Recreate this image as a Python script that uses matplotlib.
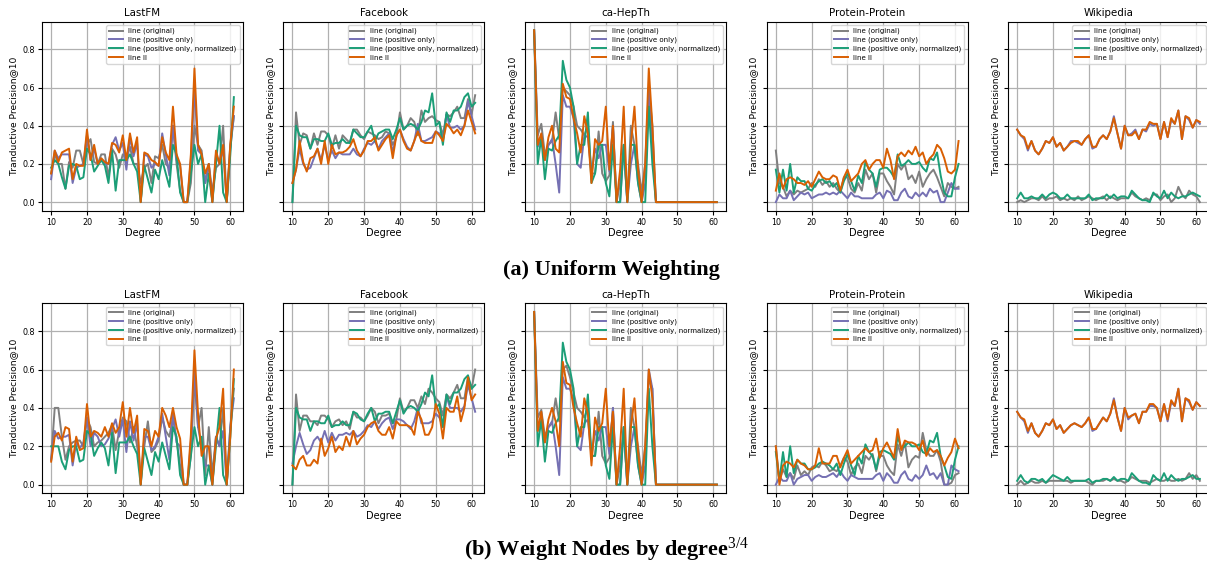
import matplotlib
matplotlib.use('Agg')
import matplotlib.pyplot as plt

plt.rcParams['mathtext.fontset'] = 'custom'
plt.rcParams['mathtext.rm'] = 'Liberation Serif'
plt.rcParams['mathtext.it'] = 'Liberation Serif:italic'
plt.rcParams['mathtext.bf'] = 'Liberation Serif:bold'

degree = list(range(10, 62))

labels = ['line (original)', 'line (positive only)',
          'line (positive only, normalized)', 'line II']
colors = ['#7f7f7f', '#7570b3', '#1b9e77', '#d95f02']
titles = ['LastFM', 'Facebook', 'ca-HepTh', 'Protein-Protein', 'Wikipedia']

# ---- (a) uniform weighting ----
lastfm_u_orig = [0.15,0.25,0.20,0.20,0.07,0.21,0.18,0.27,0.27,0.20, 0.30,0.33,0.21,0.20,0.25,0.25,0.13,0.28,0.25,0.18,
                 0.25,0.23,0.29,0.20,0.20,0.10,0.18,0.20,0.10,0.24, 0.23,0.30,0.20,0.18,0.40,0.20,0.06,0.0,0.0,0.10,
                 0.40,0.30,0.27,0.10,0.20,0.05,0.18,0.20,0.40,0.0, 0.30,0.45]
lastfm_u_pos = [0.12,0.27,0.23,0.25,0.25,0.25,0.10,0.18,0.19,0.20, 0.35,0.22,0.28,0.20,0.22,0.20,0.20,0.30,0.34,0.27,
                0.31,0.17,0.34,0.24,0.31,0.0,0.25,0.24,0.18,0.20, 0.19,0.36,0.25,0.14,0.40,0.22,0.19,0.0,0.0,0.22,
                0.60,0.27,0.25,0.10,0.20,0.0,0.25,0.20,0.28,0.0, 0.28,0.45]
lastfm_u_norm = [0.18,0.22,0.20,0.13,0.07,0.19,0.20,0.19,0.12,0.13, 0.28,0.25,0.16,0.19,0.22,0.19,0.10,0.27,0.06,0.22,
                 0.22,0.22,0.25,0.20,0.16,0.0,0.19,0.12,0.05,0.17, 0.12,0.22,0.15,0.08,0.30,0.25,0.05,0.0,0.0,0.15,
                 0.30,0.20,0.25,0.0,0.15,0.0,0.20,0.40,0.05,0.0, 0.25,0.55]
lastfm_u_line2 = [0.15,0.27,0.21,0.26,0.27,0.28,0.12,0.20,0.19,0.19, 0.38,0.22,0.30,0.20,0.23,0.21,0.20,0.31,0.30,0.26,
                  0.35,0.22,0.36,0.26,0.34,0.0,0.26,0.25,0.22,0.21, 0.19,0.34,0.26,0.22,0.50,0.25,0.20,0.0,0.0,0.25,
                  0.70,0.30,0.25,0.15,0.20,0.0,0.27,0.20,0.30,0.0, 0.30,0.50]

facebook_u_orig = [0.0,0.47,0.30,0.36,0.35,0.28,0.36,0.30,0.37,0.37, 0.35,0.28,0.35,0.28,0.35,0.33,0.31,0.38,0.38,0.35,
                   0.33,0.37,0.36,0.35,0.33,0.34,0.37,0.36,0.30,0.34, 0.47,0.38,0.40,0.44,0.42,0.35,0.48,0.42,0.44,0.45,
                   0.43,0.42,0.35,0.46,0.45,0.47,0.50,0.44,0.44,0.54, 0.46,0.56]
facebook_u_pos = [0.10,0.17,0.28,0.20,0.17,0.18,0.23,0.28,0.22,0.30, 0.22,0.27,0.23,0.26,0.25,0.25,0.25,0.28,0.25,0.24,
                  0.28,0.31,0.30,0.32,0.28,0.32,0.34,0.36,0.26,0.35, 0.38,0.33,0.29,0.27,0.32,0.41,0.32,0.32,0.33,0.34,
                  0.37,0.36,0.33,0.46,0.39,0.39,0.40,0.38,0.40,0.53, 0.45,0.38]
facebook_u_norm = [0.0,0.40,0.35,0.34,0.34,0.28,0.33,0.33,0.32,0.32, 0.36,0.30,0.31,0.31,0.33,0.31,0.31,0.38,0.36,0.34,
                   0.34,0.37,0.40,0.32,0.36,0.37,0.38,0.38,0.33,0.38, 0.44,0.38,0.40,0.41,0.40,0.38,0.42,0.48,0.47,0.57,
                   0.40,0.42,0.30,0.47,0.42,0.48,0.48,0.50,0.55,0.57, 0.50,0.52]
facebook_u_line2 = [0.10,0.17,0.32,0.21,0.16,0.23,0.24,0.28,0.20,0.32, 0.20,0.30,0.25,0.26,0.26,0.27,0.29,0.33,0.27,0.24,
                    0.27,0.32,0.32,0.34,0.27,0.30,0.33,0.35,0.23,0.35, 0.38,0.32,0.28,0.27,0.32,0.37,0.32,0.31,0.31,0.31,
                    0.37,0.35,0.32,0.41,0.39,0.36,0.38,0.35,0.40,0.48, 0.42,0.36]

hepth_u_orig = [0.90,0.35,0.41,0.25,0.30,0.32,0.47,0.33,0.60,0.58, 0.56,0.50,0.40,0.38,0.35,0.40,0.15,0.15,0.37,0.15,
                0.11,0.14,0.42,0.0,0.10,0.30,0.0,0.40,0.30,0.20, 0.05,0.20,0.60,0.40,0.0,0.0,0.0,0.0,0.0,0.0,
                0.0,0.0,0.0,0.0,0.0,0.0,0.0,0.0,0.0,0.0, 0.0,0.0]
hepth_u_pos = [0.90,0.29,0.33,0.22,0.30,0.33,0.20,0.05,0.56,0.50, 0.50,0.44,0.20,0.18,0.35,0.34,0.15,0.28,0.23,0.30,
               0.30,0.16,0.40,0.0,0.0,0.30,0.0,0.20,0.30,0.10, 0.0,0.10,0.60,0.30,0.0,0.0,0.0,0.0,0.0,0.0,
               0.0,0.0,0.0,0.0,0.0,0.0,0.0,0.0,0.0,0.0, 0.0,0.0]
hepth_u_norm = [0.90,0.20,0.34,0.12,0.28,0.27,0.32,0.35,0.74,0.64, 0.60,0.50,0.20,0.30,0.30,0.47,0.10,0.15,0.30,0.30,
                0.10,0.03,0.30,0.0,0.0,0.30,0.0,0.30,0.30,0.10, 0.0,0.0,0.50,0.20,0.0,0.0,0.0,0.0,0.0,0.0,
                0.0,0.0,0.0,0.0,0.0,0.0,0.0,0.0,0.0,0.0, 0.0,0.0]
hepth_u_line2 = [0.90,0.30,0.36,0.22,0.34,0.40,0.28,0.26,0.62,0.55, 0.54,0.44,0.36,0.26,0.45,0.36,0.10,0.33,0.30,0.32,
                 0.50,0.17,0.40,0.0,0.17,0.50,0.0,0.30,0.50,0.17, 0.0,0.20,0.70,0.40,0.0,0.0,0.0,0.0,0.0,0.0,
                 0.0,0.0,0.0,0.0,0.0,0.0,0.0,0.0,0.0,0.0, 0.0,0.0]

protein_u_orig = [0.27,0.10,0.08,0.03,0.06,0.04,0.06,0.05,0.06,0.07, 0.10,0.08,0.12,0.09,0.11,0.08,0.10,0.07,0.05,0.13,
                  0.13,0.07,0.05,0.10,0.06,0.17,0.12,0.15,0.05,0.15, 0.15,0.11,0.08,0.04,0.20,0.17,0.20,0.12,0.14,0.10,
                  0.16,0.08,0.12,0.15,0.17,0.13,0.08,0.03,0.10,0.08, 0.07,0.08]
protein_u_pos = [0.0,0.04,0.02,0.02,0.06,0.01,0.03,0.05,0.04,0.05, 0.02,0.03,0.04,0.04,0.05,0.04,0.05,0.04,0.06,0.04,
                 0.02,0.05,0.03,0.03,0.02,0.02,0.02,0.02,0.04,0.05, 0.02,0.06,0.05,0.01,0.01,0.05,0.07,0.03,0.02,0.05,
                 0.03,0.05,0.03,0.07,0.05,0.06,0.0,0.0,0.05,0.10, 0.07,0.07]
protein_u_norm = [0.17,0.05,0.17,0.06,0.20,0.05,0.13,0.11,0.11,0.07, 0.06,0.09,0.11,0.12,0.10,0.11,0.08,0.10,0.05,0.11,
                  0.15,0.11,0.06,0.14,0.10,0.21,0.17,0.15,0.08,0.17, 0.18,0.18,0.16,0.13,0.25,0.19,0.20,0.22,0.20,0.20,
                  0.21,0.18,0.16,0.23,0.22,0.26,0.14,0.05,0.03,0.03, 0.13,0.20]
protein_u_line2 = [0.06,0.15,0.07,0.12,0.13,0.12,0.10,0.10,0.09,0.11, 0.08,0.12,0.16,0.13,0.12,0.12,0.14,0.13,0.06,0.13,
                   0.17,0.11,0.13,0.15,0.20,0.22,0.17,0.20,0.22,0.22, 0.18,0.28,0.22,0.12,0.24,0.26,0.24,0.27,0.25,0.29,
                   0.24,0.26,0.20,0.23,0.25,0.30,0.28,0.23,0.16,0.15, 0.17,0.32]

wiki_u_orig = [0.0,0.01,0.0,0.01,0.02,0.02,0.01,0.03,0.01,0.02, 0.02,0.03,0.01,0.02,0.01,0.02,0.01,0.03,0.01,0.02,
               0.03,0.02,0.01,0.02,0.03,0.01,0.03,0.02,0.01,0.02, 0.02,0.02,0.05,0.03,0.02,0.01,0.02,0.01,0.04,0.04,
               0.01,0.03,0.04,0.0,0.02,0.08,0.04,0.02,0.06,0.04, 0.03,0.0]
wiki_u_pos = [0.38,0.35,0.33,0.27,0.32,0.27,0.25,0.28,0.32,0.31, 0.34,0.29,0.31,0.27,0.29,0.32,0.32,0.31,0.30,0.33,
              0.35,0.28,0.29,0.33,0.35,0.33,0.37,0.45,0.36,0.28, 0.40,0.35,0.36,0.38,0.33,0.38,0.37,0.41,0.40,0.41,
              0.33,0.42,0.34,0.43,0.41,0.48,0.33,0.45,0.43,0.39, 0.43,0.41]
wiki_u_norm = [0.02,0.05,0.02,0.02,0.03,0.02,0.02,0.04,0.02,0.04, 0.05,0.04,0.02,0.02,0.04,0.02,0.02,0.02,0.02,0.02,
               0.04,0.01,0.02,0.02,0.02,0.04,0.02,0.04,0.02,0.03, 0.03,0.02,0.06,0.04,0.02,0.01,0.01,0.0,0.05,0.03,
               0.02,0.06,0.02,0.05,0.03,0.02,0.03,0.03,0.04,0.05, 0.04,0.03]
wiki_u_line2 = [0.38,0.35,0.34,0.28,0.32,0.27,0.25,0.28,0.32,0.31, 0.34,0.29,0.31,0.27,0.29,0.31,0.32,0.32,0.30,0.33,
                0.35,0.29,0.29,0.33,0.35,0.33,0.37,0.44,0.36,0.28, 0.40,0.35,0.35,0.37,0.33,0.38,0.38,0.42,0.41,0.41,
                0.33,0.42,0.34,0.44,0.41,0.48,0.33,0.45,0.44,0.39, 0.43,0.42]

# ---- (b) weight nodes by degree^(3/4) ----
lastfm_d_orig = [0.13,0.40,0.40,0.25,0.13,0.20,0.22,0.23,0.23,0.20, 0.34,0.30,0.20,0.22,0.23,0.25,0.27,0.31,0.18,0.28,
                 0.35,0.33,0.22,0.30,0.20,0.05,0.20,0.33,0.17,0.19, 0.23,0.35,0.28,0.25,0.35,0.23,0.10,0.0,0.0,0.15,
                 0.55,0.30,0.40,0.05,0.30,0.05,0.25,0.20,0.40,0.0, 0.30,0.50]
lastfm_d_pos = [0.13,0.28,0.24,0.25,0.25,0.26,0.10,0.22,0.19,0.22, 0.35,0.20,0.27,0.25,0.20,0.21,0.24,0.29,0.34,0.25,
                0.34,0.17,0.33,0.23,0.32,0.0,0.25,0.25,0.18,0.20, 0.25,0.37,0.25,0.13,0.37,0.22,0.20,0.0,0.0,0.22,
                0.60,0.30,0.20,0.10,0.10,0.0,0.25,0.20,0.28,0.0, 0.30,0.45]
lastfm_d_norm = [0.20,0.20,0.20,0.12,0.08,0.18,0.20,0.20,0.12,0.13, 0.28,0.26,0.15,0.19,0.22,0.19,0.10,0.27,0.06,0.22,
                 0.22,0.22,0.25,0.20,0.16,0.0,0.19,0.12,0.05,0.17, 0.12,0.22,0.15,0.08,0.30,0.25,0.05,0.0,0.0,0.15,
                 0.30,0.20,0.25,0.0,0.10,0.0,0.20,0.40,0.05,0.0, 0.25,0.55]
lastfm_d_line2 = [0.12,0.25,0.27,0.23,0.30,0.29,0.12,0.25,0.18,0.19, 0.42,0.25,0.28,0.27,0.25,0.30,0.25,0.32,0.27,0.30,
                  0.43,0.25,0.40,0.27,0.36,0.0,0.29,0.28,0.20,0.28, 0.25,0.40,0.36,0.30,0.40,0.30,0.24,0.0,0.0,0.26,
                  0.70,0.37,0.15,0.20,0.20,0.0,0.24,0.30,0.50,0.0, 0.25,0.60]

facebook_d_orig = [0.0,0.47,0.28,0.36,0.36,0.33,0.33,0.31,0.36,0.36, 0.34,0.30,0.33,0.34,0.31,0.33,0.29,0.38,0.35,0.35,
                   0.33,0.36,0.40,0.38,0.32,0.36,0.36,0.37,0.32,0.34, 0.45,0.38,0.40,0.44,0.44,0.40,0.46,0.42,0.50,0.48,
                   0.45,0.43,0.36,0.47,0.45,0.48,0.52,0.45,0.45,0.56, 0.50,0.60]
facebook_d_pos = [0.11,0.20,0.27,0.21,0.16,0.18,0.23,0.25,0.22,0.28, 0.22,0.27,0.23,0.26,0.26,0.27,0.26,0.28,0.25,0.26,
                  0.28,0.31,0.30,0.33,0.29,0.32,0.34,0.35,0.29,0.34, 0.34,0.33,0.31,0.29,0.33,0.40,0.32,0.32,0.32,0.33,
                  0.37,0.35,0.30,0.46,0.40,0.40,0.40,0.38,0.41,0.52, 0.45,0.38]
facebook_d_norm = [0.0,0.40,0.35,0.34,0.34,0.28,0.33,0.33,0.32,0.32, 0.36,0.30,0.31,0.31,0.33,0.31,0.31,0.38,0.37,0.34,
                   0.33,0.37,0.40,0.33,0.37,0.37,0.38,0.38,0.32,0.38, 0.44,0.37,0.40,0.41,0.40,0.38,0.42,0.48,0.46,0.57,
                   0.40,0.42,0.30,0.47,0.42,0.48,0.48,0.50,0.55,0.57, 0.50,0.52]
facebook_d_line2 = [0.10,0.08,0.13,0.15,0.10,0.10,0.13,0.11,0.24,0.15, 0.19,0.25,0.17,0.20,0.18,0.25,0.20,0.28,0.21,0.24,
                    0.26,0.30,0.32,0.33,0.28,0.26,0.26,0.30,0.24,0.33, 0.31,0.31,0.31,0.30,0.26,0.38,0.34,0.26,0.26,0.30,
                    0.42,0.37,0.24,0.40,0.38,0.38,0.46,0.33,0.40,0.56, 0.44,0.47]

hepth_d_orig = [0.90,0.35,0.39,0.25,0.30,0.32,0.45,0.33,0.60,0.62, 0.56,0.48,0.40,0.38,0.35,0.40,0.15,0.15,0.38,0.15,
                0.11,0.14,0.40,0.0,0.10,0.30,0.0,0.40,0.30,0.20, 0.05,0.20,0.55,0.50,0.0,0.0,0.0,0.0,0.0,0.0,
                0.0,0.0,0.0,0.0,0.0,0.0,0.0,0.0,0.0,0.0, 0.0,0.0]
hepth_d_pos = [0.90,0.28,0.33,0.22,0.30,0.33,0.20,0.05,0.56,0.50, 0.50,0.44,0.20,0.18,0.32,0.34,0.15,0.28,0.23,0.30,
               0.30,0.16,0.40,0.0,0.0,0.30,0.0,0.20,0.30,0.10, 0.0,0.10,0.60,0.50,0.0,0.0,0.0,0.0,0.0,0.0,
               0.0,0.0,0.0,0.0,0.0,0.0,0.0,0.0,0.0,0.0, 0.0,0.0]
hepth_d_norm = [0.90,0.20,0.34,0.12,0.28,0.27,0.32,0.35,0.74,0.64, 0.60,0.50,0.20,0.30,0.30,0.47,0.15,0.15,0.30,0.30,
                0.10,0.03,0.30,0.0,0.0,0.30,0.0,0.30,0.30,0.10, 0.0,0.0,0.50,0.20,0.0,0.0,0.0,0.0,0.0,0.0,
                0.0,0.0,0.0,0.0,0.0,0.0,0.0,0.0,0.0,0.0, 0.0,0.0]
hepth_d_line2 = [0.90,0.28,0.38,0.22,0.34,0.40,0.33,0.20,0.64,0.53, 0.52,0.40,0.32,0.25,0.45,0.37,0.10,0.35,0.28,0.32,
                 0.50,0.20,0.38,0.0,0.20,0.50,0.0,0.30,0.45,0.17, 0.0,0.20,0.60,0.45,0.0,0.0,0.0,0.0,0.0,0.0,
                 0.0,0.0,0.0,0.0,0.0,0.0,0.0,0.0,0.0,0.0, 0.0,0.0]

protein_d_orig = [0.20,0.02,0.08,0.04,0.06,0.03,0.10,0.05,0.07,0.05, 0.09,0.10,0.09,0.12,0.10,0.07,0.08,0.07,0.10,0.14,
                  0.12,0.05,0.09,0.11,0.06,0.15,0.13,0.16,0.07,0.15, 0.15,0.10,0.07,0.05,0.21,0.15,0.22,0.09,0.13,0.15,
                  0.14,0.27,0.18,0.15,0.15,0.18,0.12,0.0,0.0,0.01, 0.05,0.06]
protein_d_pos = [0.0,0.04,0.02,0.02,0.06,0.0,0.03,0.04,0.05,0.05, 0.02,0.04,0.05,0.04,0.04,0.05,0.06,0.04,0.07,0.04,
                 0.02,0.05,0.04,0.03,0.03,0.03,0.03,0.03,0.05,0.06, 0.02,0.06,0.04,0.01,0.01,0.05,0.07,0.03,0.02,0.05,
                 0.03,0.05,0.10,0.05,0.06,0.03,0.06,0.0,0.0,0.10, 0.08,0.07]
protein_d_norm = [0.17,0.02,0.17,0.04,0.20,0.06,0.13,0.11,0.11,0.08, 0.08,0.09,0.11,0.12,0.11,0.10,0.08,0.11,0.05,0.11,
                  0.16,0.10,0.05,0.15,0.11,0.21,0.17,0.15,0.08,0.17, 0.18,0.17,0.16,0.13,0.25,0.19,0.20,0.22,0.20,0.20,
                  0.21,0.17,0.16,0.23,0.22,0.27,0.15,0.10,0.04,0.03, 0.13,0.20]
protein_d_line2 = [0.20,0.0,0.10,0.12,0.11,0.09,0.13,0.11,0.10,0.08, 0.08,0.10,0.19,0.11,0.11,0.11,0.15,0.15,0.09,0.14,
                   0.18,0.11,0.13,0.15,0.17,0.19,0.17,0.18,0.24,0.14, 0.19,0.22,0.18,0.14,0.29,0.18,0.23,0.22,0.22,0.21,
                   0.18,0.23,0.15,0.19,0.17,0.18,0.15,0.10,0.14,0.17, 0.24,0.19]

wiki_d_orig = [0.0,0.02,0.0,0.01,0.02,0.01,0.01,0.02,0.01,0.02, 0.02,0.02,0.02,0.02,0.02,0.01,0.02,0.02,0.02,0.02,
               0.01,0.0,0.02,0.02,0.02,0.03,0.02,0.03,0.02,0.02, 0.01,0.02,0.04,0.03,0.02,0.02,0.02,0.01,0.02,0.03,
               0.02,0.02,0.03,0.02,0.02,0.03,0.02,0.03,0.06,0.03, 0.05,0.02]
wiki_d_pos = [0.38,0.35,0.33,0.27,0.32,0.27,0.25,0.28,0.32,0.31, 0.34,0.29,0.31,0.27,0.29,0.31,0.32,0.31,0.30,0.32,
              0.35,0.28,0.29,0.32,0.35,0.33,0.37,0.45,0.35,0.28, 0.40,0.34,0.36,0.37,0.32,0.38,0.38,0.41,0.41,0.40,
              0.33,0.42,0.33,0.43,0.41,0.50,0.33,0.45,0.43,0.39, 0.43,0.41]
wiki_d_norm = [0.02,0.05,0.02,0.01,0.03,0.03,0.02,0.03,0.01,0.03, 0.05,0.04,0.03,0.02,0.04,0.02,0.02,0.02,0.02,0.02,
               0.03,0.01,0.02,0.02,0.03,0.03,0.02,0.04,0.02,0.03, 0.03,0.02,0.06,0.04,0.02,0.01,0.01,0.0,0.05,0.03,
               0.02,0.06,0.02,0.05,0.03,0.02,0.03,0.03,0.04,0.05, 0.03,0.03]
wiki_d_line2 = [0.38,0.35,0.34,0.28,0.32,0.27,0.25,0.28,0.32,0.31, 0.34,0.29,0.31,0.27,0.29,0.31,0.32,0.31,0.30,0.32,
                0.35,0.29,0.29,0.32,0.35,0.33,0.37,0.44,0.35,0.28, 0.40,0.35,0.36,0.37,0.32,0.38,0.38,0.42,0.42,0.40,
                0.33,0.42,0.34,0.44,0.41,0.50,0.33,0.45,0.44,0.39, 0.43,0.41]

row_a = [
    [lastfm_u_orig, lastfm_u_pos, lastfm_u_norm, lastfm_u_line2],
    [facebook_u_orig, facebook_u_pos, facebook_u_norm, facebook_u_line2],
    [hepth_u_orig, hepth_u_pos, hepth_u_norm, hepth_u_line2],
    [protein_u_orig, protein_u_pos, protein_u_norm, protein_u_line2],
    [wiki_u_orig, wiki_u_pos, wiki_u_norm, wiki_u_line2],
]
row_b = [
    [lastfm_d_orig, lastfm_d_pos, lastfm_d_norm, lastfm_d_line2],
    [facebook_d_orig, facebook_d_pos, facebook_d_norm, facebook_d_line2],
    [hepth_d_orig, hepth_d_pos, hepth_d_norm, hepth_d_line2],
    [protein_d_orig, protein_d_pos, protein_d_norm, protein_d_line2],
    [wiki_d_orig, wiki_d_pos, wiki_d_norm, wiki_d_line2],
]

W, H = 1207.0, 573.0
fig = plt.figure(figsize=(12.07, 5.73), dpi=100)

lefts = [42, 283.3, 525, 766.7, 1008]
axw = 201
rows = [(row_a, 21.7, 210.7), (row_b, 303.3, 493.3)]

for data, top, bot in rows:
    first = None
    for i, series in enumerate(data):
        rect = [lefts[i] / W, 1 - bot / H, axw / W, (bot - top) / H]
        if first is None:
            ax = fig.add_axes(rect)
            first = ax
        else:
            ax = fig.add_axes(rect, sharey=first)
            ax.tick_params(labelleft=False)
        for vals, lab, c in zip(series, labels, colors):
            ax.plot(degree, vals, color=c, lw=1.4, label=lab)
        ax.grid(True, color='#b0b0b0', lw=0.9)
        ax.set_axisbelow(True)
        ax.set_title(titles[i], fontsize=7.4, pad=4)
        ax.set_xlabel('Degree', fontsize=7, labelpad=1)
        ax.set_ylabel('Tranductive Precision@10', fontsize=6.6, labelpad=3)
        ax.tick_params(labelsize=5.8, length=3, pad=2)
        ax.legend(loc='upper right', fontsize=5, handlelength=2, borderpad=0.4,
                  labelspacing=0.35, framealpha=0.8)

fig.text(611 / W, 1 - 270 / H, '(a) Uniform Weighting', ha='center', va='center',
         fontsize=16, fontweight='bold', family='Liberation Serif')
fig.text(607 / W, 1 - 550 / H, r'(b) Weight Nodes by degree$^{3/4}$', ha='center', va='center',
         fontsize=16, fontweight='bold', family='Liberation Serif')

fig.savefig('out.png', dpi=100)
